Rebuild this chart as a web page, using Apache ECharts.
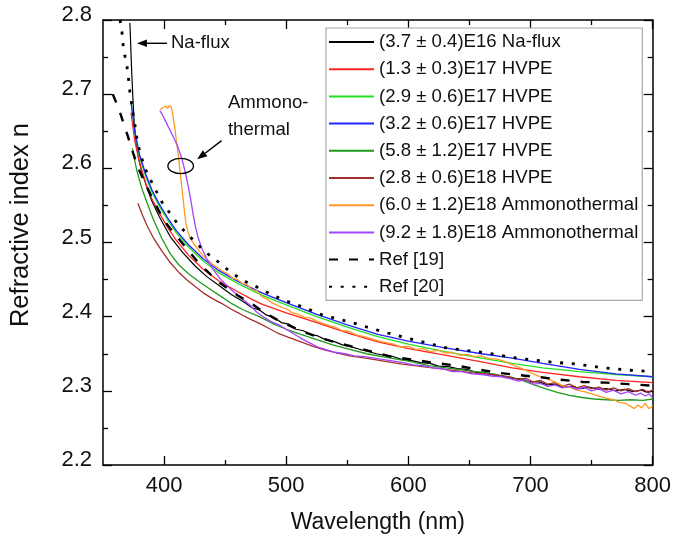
<!DOCTYPE html>
<html><head><meta charset="utf-8">
<script src="https://cdn.jsdelivr.net/npm/echarts@6/dist/echarts.min.js"></script>
<style>html,body{margin:0;padding:0;background:#fff}#c{width:674px;height:540px}</style>
</head><body><div id="c"></div>
<script>
const FONT = "'Liberation Sans', Arial, sans-serif";
const seriesNames = ["(3.7 \u00b1 0.4)E16 Na-flux","(1.3 \u00b1 0.3)E17 HVPE","(2.9 \u00b1 0.6)E17 HVPE","(3.2 \u00b1 0.6)E17 HVPE","(5.8 \u00b1 1.2)E17 HVPE","(2.8 \u00b1 0.6)E18 HVPE","(6.0 \u00b1 1.2)E18 Ammonothermal","(9.2 \u00b1 1.8)E18 Ammonothermal","Ref [19]","Ref [20]"];
const xTickLabels = [400,500,600,700,800];
const xMinorTicks = [450,550,650,750];

const nafluxData = [[372,2.796],[372.5,2.775],[373,2.752],[373.5,2.730],[374,2.712],[374.6,2.690],[375.5,2.662],[377,2.636],[379,2.614],[382,2.594],[386,2.574],[390,2.556],[396,2.535],[405,2.508],[415,2.487],[425,2.469],[435,2.454],[445,2.442],[455,2.430],[465,2.420],[472,2.412],[478,2.409],[484,2.402],[490,2.399],[496,2.392],[502,2.390],[508,2.383],[514,2.381],[520,2.376],[526,2.374],[532,2.369],[540,2.366],[546,2.362],[552,2.360],[560,2.356],[567,2.353],[574,2.350],[580,2.348],[588,2.346],[595,2.342],[602,2.341],[610,2.338],[618,2.337],[625,2.333],[632,2.333],[640,2.330],[648,2.329],[655,2.325],[662,2.325],[670,2.321],[677,2.320],[685,2.317],[692,2.316],[700,2.312],[707,2.312],[714,2.308],[720,2.309],[727,2.305],[734,2.306],[741,2.303],[748,2.305],[755,2.302],[762,2.303],[770,2.300],[777,2.302],[784,2.299],[791,2.301],[796,2.298],[800,2.300]];
const hvpe13Data = [[373,2.675],[376,2.637],[380,2.607],[385,2.580],[390,2.559],[396,2.540],[403,2.520],[410,2.503],[420,2.483],[432,2.464],[445,2.448],[460,2.434],[470,2.425],[480,2.417],[500,2.405],[525,2.392],[550,2.378],[575,2.366],[600,2.357],[630,2.348],[660,2.339],[685,2.331],[710,2.325],[740,2.319],[770,2.314],[800,2.311]];
const hvpe29Data = [[373,2.690],[376,2.648],[380,2.615],[385,2.589],[390,2.568],[396,2.549],[403,2.530],[410,2.513],[420,2.494],[432,2.475],[445,2.459],[460,2.445],[480,2.429],[500,2.416],[525,2.400],[550,2.386],[575,2.373],[600,2.363],[630,2.353],[660,2.344],[685,2.337],[710,2.331],[740,2.326],[770,2.322],[800,2.319]];
const hvpe32Data = [[373,2.689],[376,2.650],[380,2.618],[385,2.592],[390,2.571],[396,2.552],[403,2.533],[410,2.516],[420,2.497],[432,2.478],[445,2.462],[460,2.448],[480,2.432],[500,2.419],[525,2.403],[550,2.389],[575,2.376],[600,2.367],[630,2.358],[660,2.350],[685,2.344],[710,2.337],[740,2.329],[770,2.323],[800,2.319]];
const hvpe58Data = [[374,2.627],[376,2.610],[378,2.595],[382,2.572],[386,2.554],[391,2.532],[398,2.506],[405,2.485],[412,2.470],[420,2.458],[428,2.448],[436,2.439],[445,2.429],[455,2.418],[465,2.409],[478,2.400],[490,2.390],[500,2.383],[512,2.376],[525,2.369],[538,2.362],[552,2.356],[566,2.350],[582,2.345],[600,2.340],[617,2.334],[631,2.331],[645,2.328],[660,2.325],[672,2.322],[685,2.318],[695,2.313],[703,2.308],[712,2.303],[722,2.298],[732,2.294],[742,2.291],[752,2.289],[762,2.288],[772,2.287],[782,2.288],[792,2.287],[800,2.289]];
const hvpe28Data = [[378.6,2.553],[382,2.538],[386,2.523],[391,2.507],[398,2.489],[405,2.473],[412,2.460],[419,2.449],[426,2.440],[433,2.431],[440,2.424],[447,2.418],[455,2.410],[462,2.404],[470,2.397],[478,2.391],[486,2.384],[494,2.377],[502,2.372],[512,2.366],[522,2.360],[532,2.355],[542,2.351],[552,2.347],[565,2.344],[580,2.340],[595,2.336],[610,2.333],[625,2.330],[640,2.327],[655,2.324],[668,2.322],[676,2.320],[684,2.318],[690,2.315],[696,2.317],[702,2.312],[708,2.314],[714,2.309],[720,2.311],[726,2.306],[732,2.309],[738,2.304],[744,2.307],[750,2.303],[756,2.305],[762,2.301],[768,2.304],[774,2.300],[780,2.303],[786,2.299],[792,2.302],[796,2.298],[800,2.301]];
const ammono60Data = [[397,2.679],[399,2.682],[400,2.680],[401.5,2.684],[403,2.681],[404.5,2.685],[406,2.682],[407,2.674],[408,2.663],[409,2.652],[410,2.638],[411,2.625],[412,2.612],[413,2.598],[414,2.583],[415,2.567],[416,2.552],[417,2.537],[418,2.525],[419.5,2.515],[421,2.507],[424,2.499],[428,2.490],[432,2.482],[436,2.476],[440,2.470],[444,2.466],[448,2.461],[452,2.458],[456,2.452],[460,2.450],[464,2.445],[468,2.443],[472,2.436],[476,2.435],[480,2.427],[484,2.424],[488,2.419],[492,2.416],[497,2.412],[501,2.410],[505,2.405],[510,2.403],[515,2.399],[520,2.398],[525,2.394],[530,2.391],[535,2.388],[540,2.386],[546,2.381],[552,2.380],[558,2.375],[564,2.373],[570,2.370],[576,2.367],[582,2.365],[588,2.363],[594,2.359],[600,2.360],[606,2.356],[612,2.357],[618,2.353],[624,2.355],[630,2.351],[636,2.352],[642,2.348],[648,2.349],[654,2.346],[660,2.347],[666,2.343],[672,2.343],[678,2.340],[684,2.336],[690,2.332],[696,2.328],[702,2.323],[708,2.319],[714,2.316],[720,2.312],[726,2.307],[732,2.305],[738,2.301],[744,2.299],[750,2.296],[756,2.293],[762,2.290],[768,2.288],[773,2.284],[778,2.283],[782,2.279],[785,2.276],[788,2.281],[791,2.277],[794,2.283],[797,2.276],[800,2.280]];
const ammono92Data = [[396.5,2.678],[399,2.671],[402,2.661],[405,2.651],[408,2.641],[411,2.630],[414,2.616],[416,2.604],[418,2.590],[420,2.574],[422,2.556],[424,2.536],[426,2.519],[428,2.506],[431,2.492],[435,2.478],[440,2.464],[446,2.451],[452,2.441],[458,2.432],[464,2.424],[470,2.416],[476,2.406],[482,2.399],[488,2.393],[494,2.389],[500,2.383],[507,2.376],[514,2.369],[520,2.364],[526,2.359],[532,2.356],[540,2.352],[548,2.350],[556,2.347],[564,2.346],[572,2.344],[580,2.342],[588,2.340],[596,2.338],[604,2.335],[612,2.334],[620,2.331],[628,2.330],[636,2.326],[644,2.326],[652,2.323],[660,2.322],[668,2.320],[676,2.319],[684,2.316],[690,2.313],[696,2.315],[702,2.309],[708,2.310],[714,2.306],[720,2.308],[726,2.304],[732,2.306],[738,2.302],[744,2.305],[750,2.300],[756,2.303],[762,2.298],[768,2.301],[774,2.296],[780,2.299],[786,2.294],[790,2.297],[794,2.293],[797,2.296],[800,2.291]];
const ref19Data = [[358,2.700],[361,2.688],[364,2.675],[367,2.660],[370,2.645],[373,2.629],[376,2.614],[380,2.596],[385,2.578],[390,2.561],[395,2.545],[400,2.530],[405,2.519],[410.5,2.508],[416,2.497],[421,2.487],[427,2.475],[433.5,2.464],[440,2.454],[446,2.445],[453,2.437],[460,2.429],[467,2.422],[473,2.416],[480,2.408],[490,2.398],[500,2.390],[512,2.381],[525,2.373],[541,2.365],[558,2.358],[572,2.352],[586,2.346],[604,2.342],[620,2.338],[640,2.334],[656,2.329],[675,2.324],[692,2.321],[710,2.318],[724,2.315],[743,2.312],[762,2.311],[780,2.309],[800,2.307]];
const ref20Data = [[364,2.800],[365.5,2.784],[366.6,2.764],[368,2.751],[369.5,2.739],[371,2.719],[372,2.703],[374,2.681],[376,2.660],[378,2.637],[381,2.617],[384,2.602],[387,2.590],[391,2.578],[394,2.568],[399,2.552],[406,2.537],[412,2.523],[420,2.510],[427,2.498],[434,2.487],[442,2.477],[450,2.466],[458,2.456],[467,2.447],[476,2.440],[490,2.428],[500,2.421],[514,2.413],[530,2.402],[552,2.393],[568,2.385],[583,2.378],[604,2.369],[631,2.358],[650,2.354],[665,2.351],[685,2.345],[700,2.342],[716,2.339],[738,2.336],[760,2.331],[779,2.328],[800,2.326]];

const seriesData = [nafluxData,hvpe13Data,hvpe29Data,hvpe32Data,hvpe58Data,hvpe28Data,ammono60Data,ammono92Data,ref19Data,ref20Data];
const colors = ['#000000','#ff2424','#22e022','#2424ff','#1f9a1f','#a3302c','#ff9a24','#a444ff','#000000','#000000'];
const lineTypes = ['solid','solid','solid','solid','solid','solid','solid','solid',[9,11],[3,8.7]];
const lineWidths = [1.2,1.3,1.3,1.3,1.3,1.3,1.3,1.3,2.4,2.8];

const chart = echarts.init(document.getElementById('c'), null, {renderer:'canvas'});
const axisLineStyle = {color:'#000', width:1.5};
const series = seriesNames.map((name,i)=>({
  name, type:'line', data: seriesData[i], showSymbol:false, symbol:'none',
  xAxisIndex:0, yAxisIndex:0, animation:false,
  lineStyle:{color:colors[i], width:lineWidths[i], type:lineTypes[i]},
  itemStyle:{color:colors[i]}, z: i>=8 ? 4 : 3
}));
const xBase = {type:'value', min:350, max:800, splitLine:{show:false}};
const yBase = {type:'value', min:2.2, max:2.8, interval:0.1, splitLine:{show:false}};
chart.setOption({
  animation:false,
  backgroundColor:'#fff',
  grid:{left:103, right:21, top:20, bottom:75, containLabel:false},
  legend:{
    orient:'vertical', left:326, top:28, padding:[4.5,4,4,2],
    backgroundColor:'#fff', borderColor:'#a8a8a8', borderWidth:1.2,
    itemWidth:45, itemHeight:14, itemGap:8.2, selectedMode:false,
    itemStyle:{opacity:0, borderWidth:0},
    textStyle:{fontFamily:FONT, fontSize:18.6, color:'#111', lineHeight:19},
    data: seriesNames
  },
  xAxis:[
    Object.assign({}, xBase, {position:'bottom', name:'Wavelength (nm)', nameLocation:'middle', nameGap:46,
      nameTextStyle:{fontFamily:FONT, fontSize:23, color:'#111'},
      axisLine:{show:true, onZero:false, lineStyle:axisLineStyle},
      axisTick:{show:true, inside:true, length:9, customValues:xTickLabels, lineStyle:{color:'#000',width:1.3}},
      axisLabel:{show:true, customValues:xTickLabels, margin:10, fontFamily:FONT, fontSize:22, color:'#111'}}),
    Object.assign({}, xBase, {position:'bottom', axisLine:{show:false},
      axisTick:{show:true, inside:true, length:5, customValues:xMinorTicks, lineStyle:{color:'#000',width:1.3}},
      axisLabel:{show:false}}),
    Object.assign({}, xBase, {position:'top', axisLine:{show:true, onZero:false, lineStyle:axisLineStyle},
      axisTick:{show:true, inside:true, length:9, customValues:xTickLabels, lineStyle:{color:'#000',width:1.3}},
      axisLabel:{show:false}}),
    Object.assign({}, xBase, {position:'top', axisLine:{show:false},
      axisTick:{show:true, inside:true, length:5, customValues:xMinorTicks, lineStyle:{color:'#000',width:1.3}},
      axisLabel:{show:false}})
  ],
  yAxis:[
    Object.assign({}, yBase, {position:'left', name:'Refractive index n', nameLocation:'middle', nameGap:69,
      nameTextStyle:{fontFamily:FONT, fontSize:25.5, color:'#111', padding:[0,0,0,35]},
      axisLine:{show:true, onZero:false, lineStyle:axisLineStyle},
      axisTick:{show:true, inside:true, length:9, lineStyle:{color:'#000',width:1.3}},
      minorTick:{show:true, splitNumber:2, length:5, lineStyle:{color:'#000',width:1.3}},
      axisLabel:{show:true, margin:11, fontFamily:FONT, fontSize:22, color:'#111',
        verticalAlign:'bottom', lineHeight:10,
        formatter:v=>v.toFixed(1)}}),
    Object.assign({}, yBase, {position:'right', axisLine:{show:true, onZero:false, lineStyle:axisLineStyle},
      axisTick:{show:true, inside:true, length:9, lineStyle:{color:'#000',width:1.3}},
      minorTick:{show:true, splitNumber:2, length:5, lineStyle:{color:'#000',width:1.3}},
      axisLabel:{show:false}})
  ],
  series
});

// annotations anchored in data coordinates
const annNaArrowHead = [377.8, 2.7686], annNaArrowTail = [402.4, 2.7686], annNaText = [405.6, 2.7686];
const annAmmText1 = [452.3, 2.688], annAmmText2 = [452.3, 2.652];
const annAmmArrowTail = [447.1, 2.6373], annAmmArrowHead = [427.1, 2.6122];
const annEllipseCenter = [413.6, 2.6032];
function px(p){ return chart.convertToPixel({gridIndex:0}, p); }
function arrow(tail, head){
  const [x1,y1] = px(tail), [x2,y2] = px(head);
  const dx = x2-x1, dy = y2-y1, L = Math.hypot(dx,dy), ux = dx/L, uy = dy/L;
  const hl = 10, hw = 3.8;
  const bx = x2-ux*hl, by = y2-uy*hl;
  return [
    {type:'line', shape:{x1, y1, x2:bx, y2:by}, style:{stroke:'#000', lineWidth:1.4}, z:10},
    {type:'polygon', shape:{points:[[x2,y2],[bx-uy*hw,by+ux*hw],[bx+uy*hw,by-ux*hw]]}, style:{fill:'#000'}, z:10}
  ];
}
const tNa = px(annNaText), tA1 = px(annAmmText1), tA2 = px(annAmmText2), ec = px(annEllipseCenter);
chart.setOption({graphic:[
  ...arrow(annNaArrowTail, annNaArrowHead),
  {type:'text', x:tNa[0], y:tNa[1], style:{text:'Na-flux', font:'18.6px '+FONT, fill:'#111', verticalAlign:'middle'}, z:10},
  {type:'text', x:tA1[0], y:tA1[1], style:{text:'Ammono-', font:'18.6px '+FONT, fill:'#111', verticalAlign:'middle'}, z:10},
  {type:'text', x:tA2[0], y:tA2[1], style:{text:'thermal', font:'18.6px '+FONT, fill:'#111', verticalAlign:'middle'}, z:10},
  ...arrow(annAmmArrowTail, annAmmArrowHead),
  {type:'ellipse', shape:{cx:ec[0], cy:ec[1], rx:12.8, ry:7.6}, style:{fill:null, stroke:'#000', lineWidth:1.3}, z:10}
]});
</script></body></html>
